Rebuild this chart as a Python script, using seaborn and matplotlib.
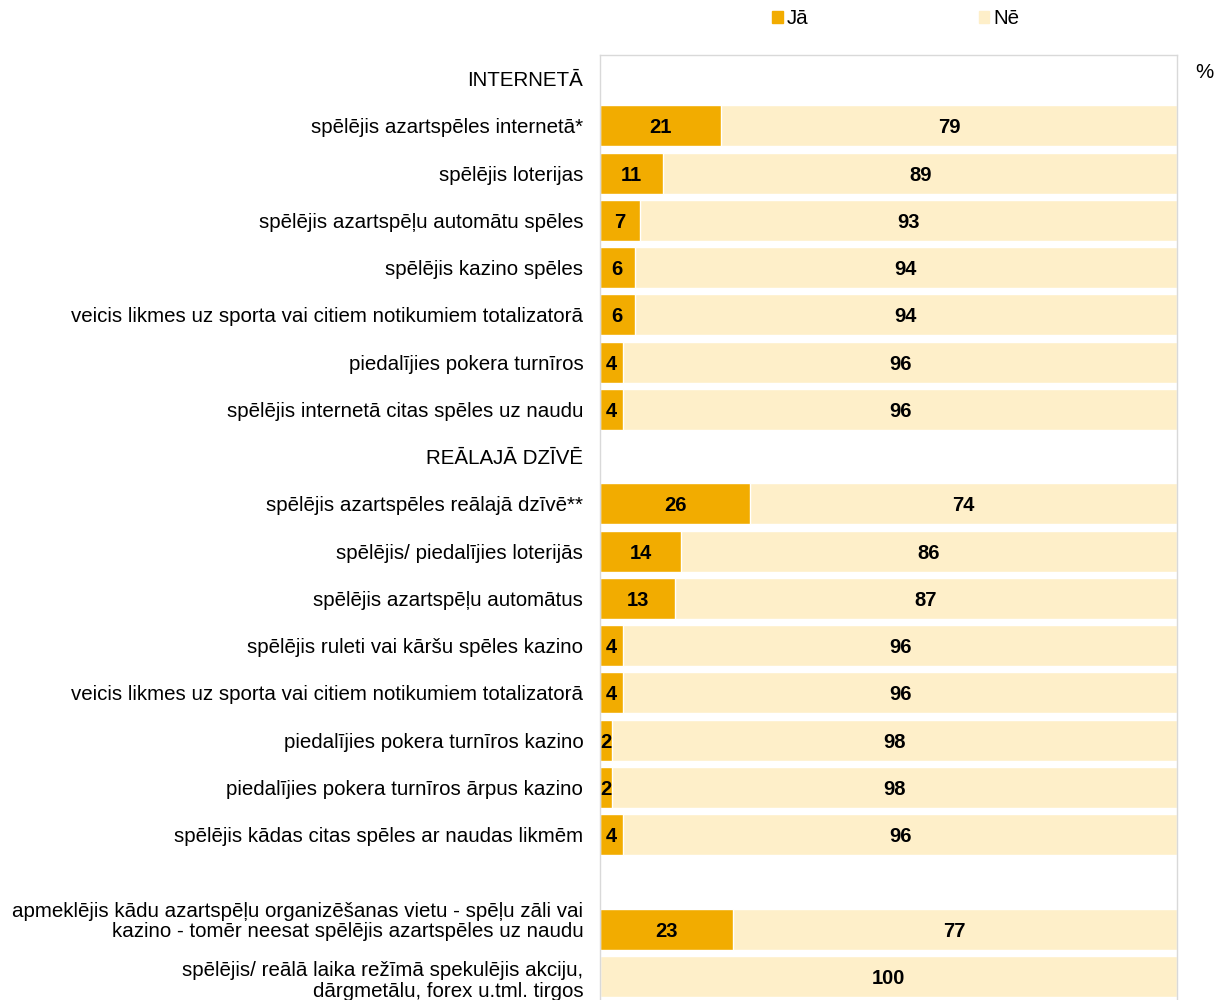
import pandas as pd
import numpy as np
import matplotlib.pyplot as plt
import matplotlib.transforms as mtransforms
import seaborn as sns
from matplotlib.patches import Patch

sns.set_theme(style='white')
plt.rcParams['font.family'] = ['Liberation Sans', 'DejaVu Sans']
plt.rcParams['text.color'] = 'black'

labels = [
    'INTERNETĀ',
    'spēlējis azartspēles internetā*',
    'spēlējis loterijas',
    'spēlējis azartspēļu automātu spēles',
    'spēlējis kazino spēles',
    'veicis likmes uz sporta vai citiem notikumiem totalizatorā',
    'piedalījies pokera turnīros',
    'spēlējis internetā citas spēles uz naudu',
    'REĀLAJĀ DZĪVĒ',
    'spēlējis azartspēles reālajā dzīvē**',
    'spēlējis/ piedalījies loterijās',
    'spēlējis azartspēļu automātus',
    'spēlējis ruleti vai kāršu spēles kazino',
    'veicis likmes uz sporta vai citiem notikumiem totalizatorā',
    'piedalījies pokera turnīros kazino',
    'piedalījies pokera turnīros ārpus kazino',
    'spēlējis kādas citas spēles ar naudas likmēm',
    '',
    'apmeklējis kādu azartspēļu organizēšanas vietu - spēļu zāli vai\nkazino - tomēr neesat spēlējis azartspēles uz naudu',
    'spēlējis/ reālā laika režīmā spekulējis akciju,\ndārgmetālu, forex u.tml. tirgos',
]
ja = [np.nan, 21, 11, 7, 6, 6, 4, 4, np.nan, 26, 14, 13, 4, 4, 2, 2, 4, np.nan, 23, 0]
ne = [np.nan, 79, 89, 93, 94, 94, 96, 96, np.nan, 74, 86, 87, 96, 96, 98, 98, 96, np.nan, 77, 100]

c_ja = '#F2AC00'
c_ne = '#FEEFC9'

df = pd.DataFrame({'row': [str(i) for i in range(len(labels))], 'ja': ja, 'ne': ne})
df['total'] = df['ja'] + df['ne']
order = list(df['row'])

fig = plt.figure(figsize=(12.21, 10), dpi=100)
ax = fig.add_axes([600 / 1221, 0.0, 577 / 1221, 0.945])

sns.barplot(data=df, x='total', y='row', order=order, color=c_ne, width=0.87,
            saturation=1, orient='h', ax=ax, errorbar=None)
sns.barplot(data=df, x='ja', y='row', order=order, color=c_ja, width=0.87,
            saturation=1, orient='h', ax=ax, errorbar=None)

for i, (a, b) in enumerate(zip(ja, ne)):
    if np.isnan(a):
        continue
    if a > 0:
        ax.text(a / 2, i, f'{a:.0f}', ha='center', va='center_baseline',
                fontsize=14.5, fontweight='bold', color='black')
    ax.text(a + b / 2, i, f'{b:.0f}', ha='center', va='center_baseline',
            fontsize=14.5, fontweight='bold', color='black')

ax.set_xlim(0, 100)
ax.set_ylim(len(labels) - 0.5, -0.5)
ax.set_xticks([])
ax.set_yticks(range(len(labels)))
ax.set_yticklabels(labels, fontsize=14.8, color='black', linespacing=1.1)
ax.tick_params(axis='y', length=0, pad=12)
ax.set_xlabel('')
ax.set_ylabel('')
for side in ['top', 'left', 'right']:
    ax.spines[side].set_color('#D9D9D9')
    ax.spines[side].set_linewidth(1)
ax.spines['bottom'].set_visible(False)

# the two wrapped labels sit a little off the bar centre in the original
ticklabels = ax.get_yticklabels()
for idx, dy in [(18, 10.5), (19, -2)]:
    lab = ticklabels[idx]
    lab.set_transform(lab.get_transform() +
                      mtransforms.ScaledTranslation(0, dy / 100, fig.dpi_scale_trans))

fig.text(1204 / 1221, 1 - 72 / 1000, '%', ha='center', va='center', fontsize=14.8)

handles = [Patch(color=c_ja, label='Jā'), Patch(color=c_ne, label='Nē')]
fig.legend(handles=handles, loc='center', bbox_to_anchor=(896 / 1221, 1 - 19 / 1000),
           ncol=2, frameon=False, fontsize=14.8, handlelength=0.5, handleheight=0.5,
           handletextpad=0.2, columnspacing=8.3)

fig.savefig('out.png', dpi=100)
